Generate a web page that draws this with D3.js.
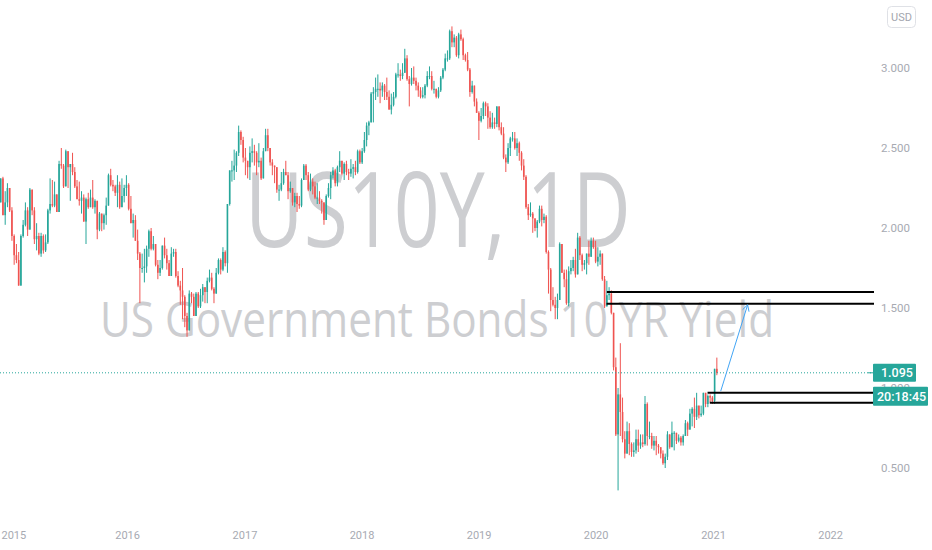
<!DOCTYPE html>
<html><head><meta charset="utf-8">
<script src="https://cdn.jsdelivr.net/npm/d3@7"></script>
<style>body{margin:0;background:#fff}svg{display:block}</style>
</head><body>
<svg id="c" width="932" height="550"></svg>
<script>
// ---- DATA (weekly candles of US10Y) ----
const firstFriday = new Date(2014, 11, 5);
const firstOpen = 2.16;
const weekClose = [
  2.31,2.08,2.16,2.25,
  2.11,1.95,1.83,1.80,1.64, 1.95,2.02,2.11,1.99, 2.24,2.11,1.93,1.95, 1.84,1.95,1.86,1.91, 2.11,2.15,2.14,2.21,2.10, 2.40,2.39,2.26,2.48, 2.38,2.40,2.35,2.26,2.18, 2.17,2.19,2.04,2.18, 2.13,2.19,2.13,2.17, 1.99,2.09,2.03,2.08,2.14, 2.33,2.27,2.26,2.22, 2.27,2.13,2.20,2.25,
  2.27,2.12,2.03,2.05,1.92, 1.84,1.75,1.75,1.76, 1.87,1.98,1.87,1.90, 1.77,1.72,1.75,1.89,1.83, 1.78,1.70,1.84,1.85, 1.70,1.64,1.61,1.57, 1.45,1.36,1.59,1.57,1.45, 1.59,1.51,1.58,1.63, 1.60,1.67,1.69,1.62,1.59, 1.72,1.80,1.74,1.85, 1.78,2.15,2.36,2.36, 2.39,2.47,2.60,2.55,2.44,
  2.42,2.38,2.47,2.48, 2.47,2.41,2.42,2.31, 2.48,2.58,2.50,2.41,2.39, 2.38,2.24,2.24,2.28, 2.35,2.33,2.23,2.25, 2.16,2.20,2.15,2.14,2.30, 2.39,2.33,2.24,2.29, 2.26,2.19,2.19,2.17, 2.16,2.05,2.20,2.25,2.33, 2.36,2.28,2.38,2.42, 2.34,2.40,2.35,2.34, 2.37,2.38,2.35,2.48,2.41,
  2.48,2.55,2.64,2.66, 2.84,2.85,2.87,2.87, 2.86,2.89,2.85,2.82,2.74, 2.77,2.82,2.96,2.96, 2.95,2.97,3.06,2.93, 2.90,2.94,2.92,2.89,2.86, 2.82,2.83,2.89,2.95, 2.95,2.87,2.87,2.82,2.86, 2.94,2.99,3.06,3.06, 3.23,3.16,3.19,3.08, 3.21,3.18,3.08,3.05,2.99, 2.85,2.89,2.79,2.72,
  2.67,2.70,2.78,2.76, 2.69,2.63,2.66,2.65, 2.76,2.63,2.59,2.44,2.41, 2.50,2.56,2.56,2.50, 2.53,2.47,2.39,2.32,2.13, 2.08,2.09,2.06,2.00, 2.04,2.12,2.05,2.07, 1.85,1.74,1.55,1.52,1.50, 1.55,1.90,1.72,1.68, 1.53,1.73,1.75,1.80, 1.71,1.94,1.83,1.77,1.78, 1.84,1.82,1.92,1.88,
  1.79,1.82,1.84,1.68,1.51, 1.58,1.59,1.47,1.13, 0.71,0.96,0.85,0.68, 0.59,0.73,0.65,0.60, 0.61,0.68,0.64,0.66,0.65, 0.90,0.70,0.70,0.64, 0.67,0.64,0.63,0.59,0.53, 0.57,0.71,0.63,0.72, 0.72,0.67,0.69,0.66, 0.70,0.78,0.74,0.84,0.87, 0.82,0.89,0.83,0.84, 0.97,0.90,0.95,0.94,
  0.92,1.12,1.095
];
const weekHigh = [
  2.31,2.32,2.23,2.28,
  2.25,2.13,1.96,1.90,1.85, 1.96,2.05,2.16,2.13, 2.25,2.24,2.13,2.03, 1.97,1.97,1.96,1.96, 2.12,2.31,2.30,2.29,2.21, 2.42,2.50,2.40,2.49, 2.48,2.40,2.47,2.38,2.30, 2.29,2.23,2.21,2.19, 2.22,2.24,2.30,2.18, 2.17,2.10,2.09,2.09,2.19, 2.34,2.37,2.30,2.27, 2.33,2.29,2.31,2.27,
  2.33,2.28,2.20,2.09,2.08, 1.99,1.85,1.84,1.87, 1.89,1.99,2.00,1.95, 1.90,1.80,1.80,1.89,1.94, 1.87,1.80,1.88,1.87, 1.87,1.73,1.67,1.75, 1.58,1.47,1.61,1.60,1.59, 1.60,1.60,1.62,1.65, 1.63,1.69,1.74,1.72,1.63, 1.75,1.81,1.81,1.88, 1.86,2.15,2.36,2.42, 2.49,2.48,2.64,2.61,2.57,
  2.50,2.42,2.51,2.56, 2.52,2.48,2.53,2.44, 2.50,2.62,2.62,2.50,2.43, 2.39,2.38,2.27,2.35, 2.37,2.42,2.35,2.29, 2.25,2.22,2.22,2.20,2.31, 2.40,2.40,2.35,2.34, 2.31,2.29,2.28,2.23, 2.18,2.15,2.21,2.28,2.35, 2.38,2.37,2.39,2.48, 2.42,2.41,2.42,2.37, 2.43,2.40,2.42,2.49,2.49,
  2.50,2.60,2.66,2.67, 2.85,2.88,2.94,2.96, 2.91,2.91,2.90,2.94,2.86, 2.84,2.85,2.97,3.03, 2.99,3.03,3.12,3.08, 2.95,3.00,3.01,2.94,2.91, 2.88,2.88,2.90,2.98, 3.01,2.98,2.92,2.87,2.88, 2.95,3.00,3.09,3.11, 3.24,3.26,3.21,3.20, 3.22,3.24,3.19,3.09,3.10, 3.00,2.92,2.89,2.81,
  2.73,2.75,2.79,2.79, 2.78,2.73,2.72,2.69, 2.76,2.76,2.66,2.63,2.46, 2.53,2.57,2.60,2.60, 2.56,2.54,2.48,2.43,2.33, 2.15,2.16,2.10,2.06, 2.05,2.14,2.14,2.09, 2.08,1.86,1.75,1.63,1.57, 1.59,1.91,1.90,1.74, 1.74,1.76,1.80,1.82, 1.87,1.97,1.95,1.84,1.80, 1.84,1.92,1.94,1.94,
  1.92,1.88,1.86,1.83,1.70, 1.67,1.63,1.61,1.42, 1.19,1.00,1.28,0.94, 0.73,0.79,0.78,0.66, 0.66,0.74,0.74,0.71,0.71, 0.95,0.91,0.79,0.72, 0.70,0.70,0.65,0.63,0.61, 0.59,0.73,0.70,0.79, 0.73,0.72,0.71,0.70, 0.71,0.80,0.79,0.87,0.88, 0.94,0.97,0.89,0.89, 0.97,0.97,0.96,0.96,
  0.95,1.12,1.19
];
const weekLow = [
  2.16,2.08,2.02,2.13,
  2.10,1.92,1.77,1.78,1.64, 1.64,1.94,2.01,1.95, 1.99,2.08,1.90,1.86, 1.83,1.82,1.84,1.85, 1.90,2.09,2.13,2.13,2.10, 2.10,2.37,2.25,2.26, 2.25,2.17,2.33,2.25,2.18, 2.14,2.09,2.04,1.90, 2.12,2.13,2.12,2.09, 1.93,1.98,1.98,1.99,2.02, 2.14,2.26,2.23,2.20, 2.13,2.12,2.13,2.16,
  2.20,2.11,2.03,1.94,1.92, 1.80,1.53,1.72,1.66, 1.72,1.82,1.86,1.86, 1.76,1.68,1.70,1.74,1.81, 1.74,1.70,1.70,1.82, 1.69,1.63,1.52,1.43, 1.38,1.32,1.37,1.53,1.45, 1.45,1.50,1.50,1.54, 1.53,1.53,1.66,1.61,1.53, 1.59,1.71,1.71,1.73, 1.76,1.72,2.14,2.29, 2.30,2.35,2.45,2.52,2.41,
  2.33,2.31,2.30,2.41, 2.39,2.33,2.38,2.30, 2.31,2.48,2.48,2.39,2.33, 2.28,2.22,2.17,2.23, 2.27,2.33,2.18,2.22, 2.14,2.13,2.10,2.12,2.13, 2.30,2.30,2.23,2.23, 2.21,2.18,2.15,2.15, 2.09,2.02,2.05,2.19,2.18, 2.31,2.26,2.26,2.35, 2.33,2.30,2.33,2.30, 2.32,2.31,2.33,2.34,2.40,
  2.40,2.47,2.51,2.58, 2.66,2.66,2.80,2.82, 2.78,2.82,2.80,2.80,2.74, 2.71,2.76,2.81,2.94, 2.92,2.93,2.98,2.92, 2.76,2.89,2.90,2.86,2.82, 2.81,2.81,2.81,2.88, 2.93,2.86,2.84,2.81,2.81, 2.85,2.93,2.98,3.04, 3.05,3.13,3.13,3.07, 3.06,3.17,3.05,3.04,2.98, 2.82,2.84,2.76,2.72,
  2.55,2.66,2.68,2.70, 2.62,2.62,2.62,2.62, 2.63,2.61,2.58,2.43,2.35, 2.40,2.45,2.54,2.49, 2.45,2.42,2.36,2.30,2.12, 2.05,2.07,1.97,1.98, 1.94,2.03,2.01,2.03, 1.84,1.59,1.48,1.51,1.43, 1.43,1.55,1.72,1.63, 1.52,1.51,1.71,1.73, 1.69,1.73,1.80,1.73,1.74, 1.71,1.77,1.83,1.87,
  1.78,1.76,1.77,1.67,1.50, 1.51,1.55,1.46,1.11, 0.70,0.36,0.70,0.66, 0.56,0.59,0.58,0.57, 0.57,0.59,0.60,0.62,0.63, 0.64,0.64,0.68,0.62, 0.61,0.58,0.59,0.56,0.52, 0.50,0.55,0.62,0.63, 0.61,0.65,0.66,0.64, 0.64,0.70,0.70,0.74,0.76, 0.75,0.80,0.81,0.82, 0.83,0.88,0.88,0.91,
  0.90,0.90,1.08
];
const priceTicks = [3.0, 2.5, 2.0, 1.5, 1.0, 0.5];
const yearTicks = [2015, 2016, 2017, 2018, 2019, 2020, 2021, 2022];
const lastPrice = 1.095;
const countdownText = "20:18:45";
const currencyText = "USD";
const watermarkTitle = "US10Y, 1D";
const watermarkSubtitle = "US Government Bonds 10 YR Yield";
// horizontal rays drawn on the chart: [value, start date]
const rayLevels = [1.600, 1.527, 0.970, 0.908];
const rayStarts = ["2020-02-05", "2020-02-04", "2020-12-15", "2020-12-22"];
// projection arrow: start/end date and value
const arrowDates = ["2021-01-25", "2021-04-19"];
const arrowValues = [0.98, 1.52];

// ---- CHART ----
const W = 932, H = 550, paneW = 874;
const UP = "#26a69a", DOWN = "#ef5350";
const svg = d3.select("#c");
const x = d3.scaleTime().domain([new Date(2015,0,1), new Date(2021,0,1)]).range([10, 713]);
const y = d3.scaleLinear().domain([0.5, 3.0]).range([468, 68]);
const parse = d3.timeParse("%Y-%m-%d");

svg.append("rect").attr("width", W).attr("height", H).attr("fill", "#fff");
svg.append("defs").append("clipPath").attr("id","pane").append("rect").attr("width", paneW).attr("height", H);

// watermark
const wm = svg.append("g").attr("fill", "#cdced1").style("font-family", "'Open Sans','Noto Sans',sans-serif");
wm.append("text").attr("x", 438).attr("y", 247).attr("text-anchor","middle")
  .attr("font-size", 104).attr("textLength", 386).attr("lengthAdjust","spacingAndGlyphs").text(watermarkTitle);
wm.append("text").attr("x", 437).attr("y", 337).attr("text-anchor","middle")
  .attr("font-size", 49).attr("textLength", 674).attr("lengthAdjust","spacingAndGlyphs").text(watermarkSubtitle);

// candles
const candles = weekClose.map((c, i) => {
  const o = i === 0 ? firstOpen : weekClose[i-1];
  return {date: d3.timeDay.offset(d3.timeFriday.offset(firstFriday, i), -2), o, c,
          h: Math.max(weekHigh[i], o, c), l: Math.min(weekLow[i], o, c)};
});
const pane = svg.append("g").attr("clip-path","url(#pane)");
const cg = pane.selectAll("g.cdl").data(candles).join("g").attr("class","cdl")
  .attr("stroke", d => d.c >= d.o ? UP : DOWN).attr("fill", d => d.c >= d.o ? UP : DOWN);
cg.append("line").attr("x1", d => x(d.date)).attr("x2", d => x(d.date))
  .attr("y1", d => y(d.h)).attr("y2", d => y(d.l)).attr("stroke-width", 1);
cg.append("rect").attr("stroke","none")
  .attr("x", d => x(d.date) - 0.8).attr("width", 1.6)
  .attr("y", d => y(Math.max(d.o, d.c)))
  .attr("height", d => Math.max(1, Math.abs(y(d.o) - y(d.c))));

// last price dotted line
pane.append("line").attr("x1", 0).attr("x2", paneW).attr("y1", y(lastPrice)).attr("y2", y(lastPrice))
  .attr("stroke", UP).attr("stroke-width", 1).attr("stroke-dasharray", "1,2");

// horizontal rays
pane.selectAll("line.ray").data(rayLevels).join("line").attr("class","ray")
  .attr("x1", (d,i) => x(parse(rayStarts[i]))).attr("x2", paneW)
  .attr("y1", d => y(d)).attr("y2", d => y(d)).attr("stroke", "#000").attr("stroke-width", 2);

// arrow
const ax0 = x(parse(arrowDates[0])), ay0 = y(arrowValues[0]);
const ax1 = x(parse(arrowDates[1])), ay1 = y(arrowValues[1]);
const ang = Math.atan2(ay1 - ay0, ax1 - ax0);
const ah = 7, spread = 0.5;
const arrowG = pane.append("g").attr("stroke", "#42a5f5").attr("stroke-width", 1).attr("fill","none");
arrowG.append("line").attr("x1", ax0).attr("y1", ay0).attr("x2", ax1).attr("y2", ay1);
arrowG.append("path").attr("d",
  `M${ax1 - ah*Math.cos(ang - spread)},${ay1 - ah*Math.sin(ang - spread)}L${ax1},${ay1}L${ax1 - ah*Math.cos(ang + spread)},${ay1 - ah*Math.sin(ang + spread)}`);

// price axis
const yAxis = svg.append("g").attr("transform", `translate(${paneW},0)`)
  .call(d3.axisRight(y).tickValues(priceTicks).tickFormat(d3.format(".3f")).tickSize(0).tickPadding(7));
yAxis.select(".domain").remove();
yAxis.selectAll("text").attr("fill", "#a7aab2").style("font-family", "Roboto, 'Liberation Sans', sans-serif").style("font-size", "11.5px");

// time axis
const xAxis = svg.append("g").attr("transform", `translate(0,527)`)
  .call(d3.axisBottom(x).tickValues(yearTicks.map(yr => new Date(yr,0,1))).tickFormat(d3.timeFormat("%Y")).tickSize(0).tickPadding(4));
xAxis.select(".domain").remove();
xAxis.selectAll("text").attr("fill", "#a7aab2").style("font-family", "Roboto, 'Liberation Sans', sans-serif").style("font-size", "11px");
// keep the first label inside the left edge, as the reference does
xAxis.selectAll(".tick").filter((d, i) => i === 0).select("text").attr("text-anchor", "start").attr("x", 1 - x(new Date(2015,0,1)));

// last price label
const ly = y(lastPrice);
svg.append("line").attr("x1", 868).attr("x2", 873).attr("y1", ly).attr("y2", ly).attr("stroke", UP);
svg.append("rect").attr("x", 873).attr("y", ly - 9).attr("width", 43).attr("height", 18).attr("rx", 1).attr("fill", UP);
svg.append("text").attr("x", 881).attr("y", ly + 4.5).attr("fill", "#fff")
  .style("font-family", "Roboto, 'Liberation Sans', sans-serif").style("font-size", "12.5px").style("font-weight", 500).text(d3.format(".3f")(lastPrice));
svg.append("rect").attr("x", 873).attr("y", ly + 14).attr("width", 55).attr("height", 19).attr("rx", 1).attr("fill", UP);
svg.append("text").attr("x", 877).attr("y", ly + 28).attr("fill", "#fff")
  .style("font-family", "Roboto, 'Liberation Sans', sans-serif").style("font-size", "12.5px").style("font-weight", 500).text(countdownText);

// currency badge
svg.append("rect").attr("x", 887.5).attr("y", 6.5).attr("width", 28).attr("height", 21).attr("rx", 4)
  .attr("fill", "#fff").attr("stroke", "#dfe1e6");
svg.append("text").attr("x", 901.5).attr("y", 21).attr("text-anchor","middle").attr("fill", "#a3a6ae")
  .style("font-family", "Roboto, 'Liberation Sans', sans-serif").style("font-size", "11px").text(currencyText);
</script>
</body></html>
